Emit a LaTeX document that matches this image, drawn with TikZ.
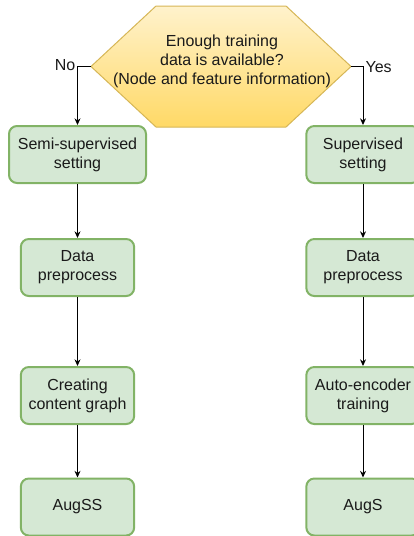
\documentclass[tikz,border=0pt]{standalone}
\usepackage{fontspec}
\setmainfont{Liberation Sans}
\usetikzlibrary{arrows.meta}

\definecolor{decfill}{HTML}{FFF2CC}
\definecolor{decgrad}{HTML}{FFD966}
\definecolor{decline}{HTML}{D6B656}
\definecolor{boxfill}{HTML}{D5E8D4}
\definecolor{boxline}{HTML}{82B366}
\definecolor{txt}{HTML}{1A1A1A}

\tikzset{
  stepbox/.style={draw=boxline, fill=boxfill, line width=1.5pt,
    rounded corners=6pt, minimum height=42.75pt, align=center,
    inner sep=0pt, text=txt, font=\fontsize{12}{14.3}\selectfont},
  wide/.style={minimum width=102.75pt},
  narrow/.style={minimum width=85pt},
  flow/.style={draw=black, line width=0.75pt,
    -{Stealth[length=5pt,width=4.5pt]}},
  lbl/.style={text=txt, font=\fontsize{12}{14.3}\selectfont, inner sep=1pt}
}

\begin{document}
\begin{tikzpicture}[x=0.75pt, y=-0.75pt]
\path[use as bounding box, clip] (0,0) rectangle (414,536);

% decision hexagon with vertical gradient
\coordinate (hexW) at (91,66.5);
\coordinate (hexE) at (351,66.5);
\path[draw=decline, line width=0.75pt, top color=decfill, bottom color=decgrad]
  (hexW) -- (156,6) -- (286,6) -- (hexE) -- (286,127) -- (156,127) -- cycle;
\node[lbl, align=center] (q) at (222,61)
  {Enough training\\data is available?\\(Node and feature information)};

% left branch
\node[stepbox, wide]   (semi)  at (77.5,154.5) {Semi-supervised\\setting};
\node[stepbox, narrow] (prepL) at (77.5,267.5) {Data\\preprocess};
\node[stepbox, narrow] (graph) at (77.5,395.5) {Creating\\content graph};
\node[stepbox, narrow] (augss) at (77.5,507)   {AugSS};

% right branch
\node[stepbox, narrow] (sup)   at (363,154.5) {Supervised\\setting};
\node[stepbox, narrow] (prepR) at (363,267.5) {Data\\preprocess};
\node[stepbox, narrow] (auto)  at (363,395.5) {Auto-encoder\\training};
\node[stepbox, narrow] (augs)  at (363,507)   {AugS};

% branch labels
\node[lbl, anchor=east] (no)  at (77,65)  {No};
\node[lbl, anchor=west] (yes) at (364,67) {Yes};

% connectors
\draw[flow] (hexW) -| (semi.north);
\draw[flow] (hexE) -| (sup.north);
\draw[flow] (semi) -- (prepL);
\draw[flow] (prepL) -- (graph);
\draw[flow] (graph) -- (augss);
\draw[flow] (sup) -- (prepR);
\draw[flow] (prepR) -- (auto);
\draw[flow] (auto) -- (augs);
\end{tikzpicture}
\end{document}
